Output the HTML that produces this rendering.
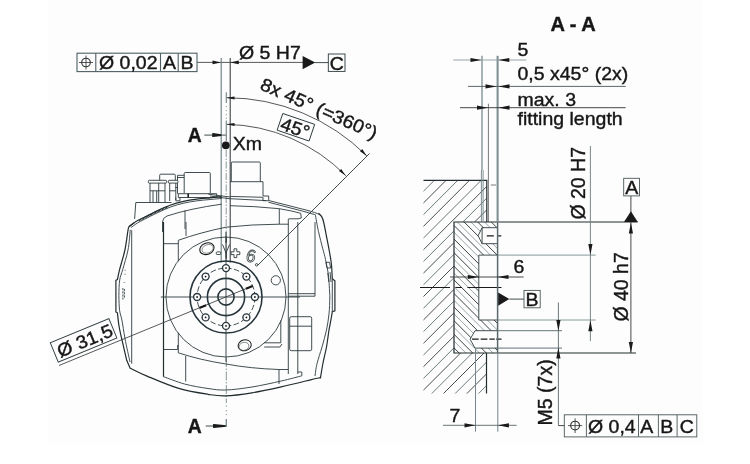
<!DOCTYPE html>
<html>
<head>
<meta charset="utf-8">
<title>Drawing</title>
<style>
html,body{margin:0;padding:0;background:#ffffff;}
body{width:750px;height:464px;overflow:hidden;position:relative;font-family:"Liberation Sans",sans-serif;}
#bg{position:absolute;left:48px;top:0;width:655px;height:444px;background:#fdfdfd;}
svg{position:absolute;left:0;top:0;}
text{font-family:"Liberation Sans",sans-serif;fill:#161616;stroke:#161616;stroke-width:0.4;}
.t{font-size:18.4px;}
.b{font-weight:bold;}
.v{font-size:19.5px;}
.l{stroke:#222c2e;stroke-width:1.2;fill:none;}
.m{stroke:#2c3a3d;stroke-width:0.9;fill:none;}
.n{stroke:#4a5658;stroke-width:0.6;fill:none;}
.k{stroke:#1a1a1a;stroke-width:1.3;fill:none;}
.g{stroke:#7c8c8f;stroke-width:0.9;fill:none;}
.gl{stroke:#9aa8aa;stroke-width:0.9;fill:none;}
.d{stroke:#2a2f30;stroke-width:0.8;fill:none;}
.f{fill:#1a1a1a;stroke:none;}
.fr{stroke:#4e5f63;stroke-width:1.1;fill:none;}
</style>
</head>
<body>
<div id="bg"></div>
<svg width="750" height="464" viewBox="0 0 750 464" style="filter:blur(0.35px)">

<g id="left-annot">
<!-- feature control frame top-left -->
<rect class="fr" x="77" y="53.2" width="120" height="18.4"/>
<path class="fr" d="M95.8 53.2 V71.6 M160.5 53.2 V71.6 M178.2 53.2 V71.6"/>
<circle class="d" cx="86" cy="62.5" r="4.3" style="stroke-width:1.1"/>
<path class="d" d="M79 62.5 H93 M86 55.5 V69.5"/>
<text class="t" transform="translate(99,69) scale(1.06,1)">Ø 0,02</text>
<text class="t" transform="translate(163,69) scale(1.06,1)">A</text>
<text class="t" transform="translate(180.5,69) scale(1.06,1)">B</text>
<!-- leader -->
<line class="d" x1="197.4" y1="62.4" x2="303" y2="62.4"/>
<path class="f" d="M221 62.4 l-8.5 -1.9 v3.8 z M230.3 62.4 l8.5 -1.9 v3.8 z"/>
<text class="t" transform="translate(239,59.2) scale(1.06,1)">Ø 5 H7</text>
<path class="f" d="M315.3 62.6 L302.6 56.1 V69.2 Z"/>
<line class="m" x1="315" y1="62.6" x2="328.3" y2="62.6"/>
<rect class="m" x="328.3" y="54" width="16.7" height="17.4"/>
<text class="t" transform="translate(329.8,70) scale(1.06,1)">C</text>
<!-- vertical extension lines -->
<line class="g" x1="221.2" y1="58" x2="221.2" y2="262.5" style="stroke:#66787c;stroke-width:1.1"/>
<line class="d" x1="230.2" y1="58" x2="230.2" y2="262.5" style="stroke-width:1"/>
<!-- arcs -->
<path class="d" d="M 226.5 97.7 A 199.2 199.2 0 0 1 366.8 155.9"/>
<path class="d" d="M 226.5 124.3 A 172 172 0 0 1 345.8 175.7"/>
<path class="f" d="M226.5 97.7 l8 -1.3 l0.1 3 z M226.5 124.3 l8 -1.3 l0.1 3 z"/>
<path class="f" d="M366.8 155.9 l-4.6 -6.8 l-2.2 2.2 z M345.8 175.7 l-4.6 -6.8 l-2.2 2.2 z"/>
<line class="m" x1="257.6" y1="265.4" x2="369.5" y2="153.5"/>
<text class="t" transform="translate(259,89) rotate(23.8) scale(1.06,1)">8x 45° (=360°)</text>
<g transform="translate(282.8,113.5) rotate(18.8)">
<rect class="m" x="0" y="0" width="33.7" height="17.6"/>
<text class="t" transform="translate(1.6,16) scale(1.06,1)">45°</text>
</g>
<!-- A markers -->
<text class="t b" transform="translate(187.8,142)" style="font-size:19.3px">A</text>
<line class="m" x1="204.3" y1="135.1" x2="226.2" y2="135.1"/>
<path class="f" d="M212.2 133.6 Q212.2 133 213 133.1 L221.3 134.3 V135.9 L213 137.1 Q212.2 137.2 212.2 136.6 Z"/>
<path class="g" d="M226.3 92.3 V103 M226.3 120.6 V141" style="stroke-width:1.2"/>
<path class="g" d="M226.3 106 v1.2 M226.3 110 v1.2 M226.3 114 v1.2 M226.3 117.6 v1.2"/>
<circle class="f" cx="225.8" cy="145.3" r="3.9"/>
<text class="t" transform="translate(232.8,149.8) scale(1.06,1)">Xm</text>
<text class="t b" transform="translate(187.8,433)" style="font-size:19.3px">A</text>
<line class="m" x1="205.7" y1="426" x2="214" y2="426"/>
<path class="f" d="M213 424.4 Q213 423.8 213.8 423.9 L226.4 425.2 V426.8 L213.8 428.1 Q213 428.2 213 427.6 Z"/>
<path class="g" d="M226.3 419 V427" style="stroke-width:1.4"/>
<!-- centre line -->
<line class="g" x1="226.2" y1="150" x2="226.2" y2="236" stroke-dasharray="7 1.5 1.5 1.5"/>
<line class="d" x1="226.2" y1="236.8" x2="226.2" y2="262" stroke-dasharray="6 8.6 7 20" style="stroke-width:1.3"/>
<line class="n" x1="226.2" y1="236" x2="226.2" y2="262"/>
<line class="g" x1="226.3" y1="358" x2="226.3" y2="403" stroke-dasharray="9 1.5 1.5 1.5"/>
<path class="g" d="M226.3 405.5 v1.3 M226.3 410 v1.3 M226.3 413.8 v1.3"/>
<!-- diam 31,5 -->
<g transform="translate(50.3,342.8) rotate(-22.4)">
<rect class="m" x="0" y="0" width="63.4" height="20.9"/>
<text class="t" transform="translate(3.5,17.5) scale(1.06,1)">Ø 31,5</text>
</g>
<line class="d" x1="59" y1="365.5" x2="252.8" y2="285.9"/>
</g>

<g id="left-body">
<!-- ===== connectors on top-left ===== -->
<path class="m" d="M135.8 202.5 H171.5 M135.8 202.5 L134.6 219"/>
<rect class="m" x="148.3" y="180.3" width="18.4" height="2.8" rx="1"/>
<rect class="m" x="168.3" y="180.3" width="9.7" height="2.8" rx="1"/>
<path class="m" d="M150 183 V202.5 M165 183 V202.5 M150 190.8 H165 M153 190.8 V202.5 M156.7 190.8 V202.5 M158.7 183 V202.5"/>
<path class="m" d="M169.7 183 V201 M175.8 183 V200 M169.7 190.8 H175.8"/>
<path class="m" d="M159.7 180.3 V175.2 Q159.7 174.2 160.7 174.2 H174.3 Q175.3 174.2 175.3 175.2 V180.3"/>
<path class="m" d="M177.5 180.3 V175.3 H184.2 M177.5 177.5 H184.2 M175.3 187.5 H177.5 M177.5 183 V193.7"/>
<path class="m" d="M184.2 193 V173.5 Q184.2 172.5 185.2 172.5 H209.3 Q210.3 172.5 210.3 173.5 V193"/>
<path class="m" d="M178.3 193.7 H216.7 V197.5 M178.3 193.7 V197.5 H216 M175.8 197.5 V200.8 H180 V197.5"/>
<path class="k" d="M188.2 193.7 V197.5" style="stroke-width:1.6"/>
<path class="m" d="M208.3 194.2 L230 197 M210 196 L230 198.8"/>
<!-- ===== boxes on top-right ===== -->
<path class="m" d="M231.3 181.7 V163 Q231.3 162 232.3 162 H259.3 Q260.3 162 260.3 163 V181.7"/>
<path class="m" d="M230.3 181.7 H263 V196 H268.7 V200.7 H263 V197.3"/>
<!-- ===== top surface ===== -->
<path class="l" d="M129.0 226.8 C130.2 225.9 133.6 223.1 136.0 221.6 C138.4 220.1 140.0 219.6 143.4 217.8 C146.8 216.1 152.2 213.2 156.7 211.1 C161.1 209.0 165.6 206.8 170.1 205.2 C174.6 203.6 179.1 202.4 183.5 201.4 C187.9 200.4 192.4 199.7 196.8 199.1 C201.2 198.5 206.0 198.2 210.2 197.8 C214.3 197.4 219.8 196.8 221.7 196.6"/>
<path class="m" d="M131.0 227.6 C132.1 226.8 135.3 224.3 137.6 222.9 C139.9 221.5 141.3 220.9 144.6 219.2 C147.9 217.5 153.2 214.8 157.6 212.7 C162.0 210.6 166.4 208.5 170.8 206.9 C175.2 205.3 179.6 204.1 184.0 203.1 C188.4 202.1 192.6 201.4 197.0 200.8 C201.4 200.2 206.1 199.9 210.2 199.5 C214.3 199.1 219.8 198.6 221.7 198.4"/>
<path class="l" d="M139.0 220.6 C140.5 219.8 145.0 217.4 148.0 215.9 C151.0 214.4 153.9 213.1 157.2 211.5 C160.5 209.9 166.2 207.4 168.0 206.6" style="stroke-width:2;stroke-dasharray:0.9 0.6"/>
<path class="m" d="M230.2 196.4 L263 197.3 M268.7 200.5 L306 210 Q316 212.6 319.5 214.6"/>
<path class="m" d="M230.2 198.7 L266 200.6 M268.4 202.2 L304 211.5 L314.8 214.6"/>
<!-- inner arc -->
<path class="m" d="M162.5 232 V222 Q162.8 217.5 167 216 Q190 208.5 221.5 204.2 M185 210.3 V229"/>
<path class="m" d="M230.2 205.7 Q255 206.2 279.3 208.7 Q292 210.8 300.7 213.3 L301.3 218 L298 218.8 H288.5 M279.3 208.7 V224.3"/>
<!-- ===== left cover ===== -->
<path class="l" d="M134.2 222.8 C133.6 223.2 131.5 224.5 130.5 225.5 C129.5 226.5 129.2 224.6 128.3 228.7 C127.4 232.8 126.4 243.2 124.9 250.0 C123.5 256.8 120.8 264.7 119.6 269.6 C118.3 274.5 117.8 277.9 117.4 279.5 L115.9 280.3 V312 L117.4 312.8 C117.7 315.0 118.3 321.7 119.0 326.0 C119.7 330.3 120.4 333.0 121.7 338.7 C123.0 344.4 125.9 356.7 126.7 360.3 L130.2 368.2 C133.0 369.5 138.9 372.7 147.0 376.1 C155.1 379.5 168.5 385.4 178.7 388.4 C188.9 391.4 200.2 393.1 208.0 394.3 C215.8 395.5 218.3 396.1 225.6 395.8 C232.9 395.6 242.7 394.3 252.0 392.8 C261.3 391.3 271.5 389.1 281.3 386.9 C291.1 384.7 304.1 381.4 310.6 379.8 C317.1 378.2 318.8 378.0 320.4 377.6"/>
<path class="m" d="M130.3 229.8 C129.9 233.2 129.3 243.4 128.0 250.0 C126.7 256.6 124.1 264.6 122.7 269.6 C121.3 274.6 120.3 275.7 119.7 280.0 C119.1 284.3 118.9 290.2 118.9 295.3 C118.9 300.4 119.1 306.3 119.6 310.4 C120.1 314.5 121.0 315.3 121.9 320.0 C122.8 324.7 123.7 331.7 125.0 338.7 C126.3 345.7 129.2 358.1 130.0 362.0"/>
<path class="m" d="M131.7 230.3 V363.7"/>
<path class="m" d="M163.5 376.7 C167.0 377.9 177.1 382.0 184.5 384.0 C191.9 386.0 201.2 387.5 208.0 388.5 C214.8 389.5 218.3 390.2 225.6 390.0 C232.9 389.8 242.7 388.5 252.0 387.0 C261.3 385.5 273.0 382.9 281.3 381.0 C289.6 379.1 298.4 376.7 301.8 375.8 V372 H297.6"/>
<path class="n" d="M124.3 270.3 h1.6 M124.3 274.2 h1.6 M123.6 282.5 h1.6"/>
<path class="m" d="M122.9 288 v11.5 M124.4 289 v9.5" stroke-dasharray="2.2 1"/>
<!-- ===== right cover ===== -->
<path class="l" d="M318.5 213.2 C319.0 213.8 320.8 215.1 321.7 216.6 C322.6 218.1 322.9 219.1 323.6 222.0 C324.3 224.9 325.1 229.0 326.0 233.8 C326.9 238.6 328.4 246.0 329.3 251.0 C330.2 256.0 330.9 259.4 331.4 264.0 C331.9 268.6 332.1 276.3 332.3 278.8 L334.9 280.8 V310.9 L332.3 311.8 C332.0 313.4 331.2 318.6 330.6 321.6 C330.1 324.6 329.7 325.8 329.0 330.0 C328.3 334.2 327.5 341.5 326.5 347.0 C325.5 352.5 324.0 357.8 323.0 363.0 C322.0 368.2 320.8 375.8 320.4 378.3"/>
<path class="m" d="M315.3 214.4 C315.8 217.3 317.2 225.8 318.5 231.6 C319.8 237.3 321.6 244.3 322.8 248.9 C324.0 253.5 324.6 255.0 325.5 259.4 C326.4 263.8 327.8 270.1 328.4 275.0 C329.0 279.9 329.2 284.7 329.4 288.5 C329.6 292.3 329.9 293.8 329.8 298.0 C329.7 302.2 329.6 308.5 329.0 313.8 C328.4 319.1 327.7 324.5 326.5 330.0 C325.3 335.5 323.6 341.4 322.0 347.0 C320.4 352.6 318.2 358.8 317.0 363.7 C315.8 368.6 315.3 374.0 315.0 376.1"/>
<path class="m" d="M332.3 278.8 V311.8"/>
<path class="m" d="M325.9 262.3 H329.6 L330.6 268 H327 Z M327.8 273 L328.8 282 M330 272 L331 282"/>
<!-- ===== inner structure ===== -->
<path class="l" d="M163.5 222 V376.7"/>
<path class="m" d="M186 222 V236 M163.5 243.7 H178.3 M163.5 349.5 H177.7 V345"/>
<path class="m" d="M178.3 261.2 V240.3 Q200 232.5 226 227.2 Q252 224.3 279.3 224.2 H288.5"/>
<path class="m" d="M178.3 332.8 V352.8 Q200 360 226 364 Q250 368.5 279 369.5 H288.3 M185.7 356 V381.5 M279 369.5 V384"/>
<path class="m" d="M288.3 219 V374 M297.8 222 V374 M315 222 V296.2 M288.3 293.7 H315 M288.3 296.2 H315"/>
<rect class="m" x="289.7" y="316.7" width="22" height="34" rx="1.5"/>
<path class="m" d="M289.7 326.2 H311.7"/>
<path class="m" d="M280.8 320.3 V342.8 H264.2 M264.2 347 H280 L282 344"/>
<!-- ===== rotary plate ===== -->
<circle class="m" cx="226" cy="297" r="60"/>
<circle class="k" cx="226" cy="297" r="36" style="stroke-width:1.6;stroke:#25343a"/>
<circle class="m" cx="226" cy="297" r="28.9" stroke-dasharray="5.6 2.4"/>
<circle class="k" cx="226" cy="297" r="18.6" style="stroke-width:1.6;stroke:#25343a"/>
<circle class="k" cx="226" cy="297" r="8.1" style="stroke-width:1.6;stroke:#25343a"/>
<path class="m" d="M160.8 297 H300 M226 232 V362"/>
<circle cx="226.0" cy="268.1" r="3.5" fill="#fdfdfd" stroke="#25343a" stroke-width="1.35"/><circle cx="226.0" cy="268.1" r="0.9" class="f"/>
<circle cx="205.6" cy="276.6" r="3.5" fill="#fdfdfd" stroke="#25343a" stroke-width="1.35"/><circle cx="205.6" cy="276.6" r="0.9" class="f"/>
<circle cx="197.1" cy="297.0" r="3.5" fill="#fdfdfd" stroke="#25343a" stroke-width="1.35"/><circle cx="197.1" cy="297.0" r="0.9" class="f"/>
<circle cx="205.6" cy="317.4" r="3.5" fill="#fdfdfd" stroke="#25343a" stroke-width="1.35"/><circle cx="205.6" cy="317.4" r="0.9" class="f"/>
<circle cx="226.0" cy="325.9" r="3.5" fill="#fdfdfd" stroke="#25343a" stroke-width="1.35"/><circle cx="226.0" cy="325.9" r="0.9" class="f"/>
<circle cx="246.4" cy="317.4" r="3.5" fill="#fdfdfd" stroke="#25343a" stroke-width="1.35"/><circle cx="246.4" cy="317.4" r="0.9" class="f"/>
<circle cx="254.9" cy="297.0" r="3.5" fill="#fdfdfd" stroke="#25343a" stroke-width="1.35"/><circle cx="254.9" cy="297.0" r="0.9" class="f"/>
<circle cx="246.4" cy="276.6" r="3.5" fill="#fdfdfd" stroke="#25343a" stroke-width="1.35"/><circle cx="246.4" cy="276.6" r="0.9" class="f"/>
<!-- thick arrow dashes of dia 31,5 -->
<path class="k" d="M245.9 288.8 L252.7 286" style="stroke-width:2.3"/>
<path class="k" d="M206.1 305.2 L199.3 308" style="stroke-width:2.3"/>
<!-- symbols on plate -->
<g transform="translate(206.9,248.7) rotate(-22)"><ellipse class="k" cx="0" cy="0" rx="7.4" ry="5.6" style="stroke-width:1.1"/><ellipse class="n" cx="0.6" cy="0.4" rx="5.8" ry="4.1"/></g>
<rect class="m" x="216.3" y="251.9" width="4.4" height="2.6" rx="0.8"/>
<path class="m" d="M222.5 244.4 L226 253 L229.6 244.4"/>
<path class="m" d="M234 248.8 h2.8 v3 h3 v2.8 h-3 v3 h-2.8 v-3 h-3 v-2.8 h3 z"/>
<text x="246" y="262" style="font-size:17px;font-style:italic;fill:none;stroke:#3a4648;stroke-width:0.8">6</text>
<circle class="m" cx="256.6" cy="264.8" r="1.2"/>
<circle class="m" cx="275.8" cy="280.3" r="4.6"/>
<g transform="translate(244.7,345.3) rotate(-15)"><ellipse class="k" cx="0" cy="0" rx="6.6" ry="5.4" style="stroke-width:1"/><ellipse class="n" cx="-1" cy="0.8" rx="5" ry="4"/></g>
</g>

<g id="right-view">
<defs>
<clipPath id="cb"><path d="M423.5 180.4 H486.8 V222 H454 V353 H486.5 V393.5 H423.5 Z"/></clipPath>
<clipPath id="cf"><path d="M454 222 H497.5 V227.7 H482.1 L478.1 235.7 L482.1 243.7 H497.5 V255.1 H478.8 V320 H497.5 V330.7 H475 L470.1 339.3 L475 348.1 H497.5 V353 H454 Z"/></clipPath>
</defs>
<style>.h1{stroke:#27302f;stroke-width:0.85;fill:none}.h1b{stroke:#4f6265;stroke-width:0.85;fill:none}.h2{stroke:#262c2d;stroke-width:0.9;fill:none}.h2b{stroke:#7d9094;stroke-width:0.8;fill:none}</style>
<text class="t b" transform="translate(550.6,31.2) scale(1.0,1)" style="font-size:20px">A - A</text>
<!-- body hatch -->
<g clip-path="url(#cb)"><path class="h1" d="M420.0 136.2 L500.0 56.2 M420.0 159.6 L500.0 79.6 M420.0 183.0 L500.0 103.0 M420.0 206.4 L500.0 126.4 M420.0 229.8 L500.0 149.8 M420.0 253.2 L500.0 173.2 M420.0 276.6 L500.0 196.6 M420.0 300.0 L500.0 220.0 M420.0 323.4 L500.0 243.4 M420.0 346.8 L500.0 266.8 M420.0 370.2 L500.0 290.2 M420.0 393.6 L500.0 313.6 M420.0 417.0 L500.0 337.0 M420.0 440.4 L500.0 360.4 M420.0 463.8 L500.0 383.8 M420.0 487.2 L500.0 407.2 M420.0 510.6 L500.0 430.6 M420.0 534.0 L500.0 454.0 M420.0 557.4 L500.0 477.4 M420.0 580.8 L500.0 500.8"/><path class="h1b" d="M420.0 147.9 L500.0 67.9 M420.0 171.3 L500.0 91.3 M420.0 194.7 L500.0 114.7 M420.0 218.1 L500.0 138.1 M420.0 241.5 L500.0 161.5 M420.0 264.9 L500.0 184.9 M420.0 288.3 L500.0 208.3 M420.0 311.7 L500.0 231.7 M420.0 335.1 L500.0 255.1 M420.0 358.5 L500.0 278.5 M420.0 381.9 L500.0 301.9 M420.0 405.3 L500.0 325.3 M420.0 428.7 L500.0 348.7 M420.0 452.1 L500.0 372.1 M420.0 475.5 L500.0 395.5 M420.0 498.9 L500.0 418.9 M420.0 522.3 L500.0 442.3 M420.0 545.7 L500.0 465.7 M420.0 569.1 L500.0 489.1 M420.0 592.5 L500.0 512.5"/></g>
<!-- flange hatch -->
<g clip-path="url(#cf)"><path class="h2" d="M450.0 398.3 L500.0 448.3 M450.0 384.7 L500.0 434.7 M450.0 371.1 L500.0 421.1 M450.0 357.5 L500.0 407.5 M450.0 343.9 L500.0 393.9 M450.0 330.3 L500.0 380.3 M450.0 316.7 L500.0 366.7 M450.0 303.1 L500.0 353.1 M450.0 289.5 L500.0 339.5 M450.0 275.9 L500.0 325.9 M450.0 262.3 L500.0 312.3 M450.0 248.7 L500.0 298.7 M450.0 235.1 L500.0 285.1 M450.0 221.5 L500.0 271.5 M450.0 207.9 L500.0 257.9 M450.0 194.3 L500.0 244.3 M450.0 180.7 L500.0 230.7 M450.0 167.1 L500.0 217.1 M450.0 153.5 L500.0 203.5 M450.0 139.9 L500.0 189.9"/><path class="h2b" d="M450.0 391.5 L500.0 441.5 M450.0 377.9 L500.0 427.9 M450.0 364.3 L500.0 414.3 M450.0 350.7 L500.0 400.7 M450.0 337.1 L500.0 387.1 M450.0 323.5 L500.0 373.5 M450.0 309.9 L500.0 359.9 M450.0 296.3 L500.0 346.3 M450.0 282.7 L500.0 332.7 M450.0 269.1 L500.0 319.1 M450.0 255.5 L500.0 305.5 M450.0 241.9 L500.0 291.9 M450.0 228.3 L500.0 278.3 M450.0 214.7 L500.0 264.7 M450.0 201.1 L500.0 251.1 M450.0 187.5 L500.0 237.5 M450.0 173.9 L500.0 223.9 M450.0 160.3 L500.0 210.3 M450.0 146.7 L500.0 196.7 M450.0 133.1 L500.0 183.1"/></g>
<!-- body outline -->
<path class="l" d="M423.5 180.4 H486.8 V222"/>
<path class="l" d="M486.5 353 V393.5"/>
<!-- flange outline -->
<path class="l" d="M637.8 222 H454 V353 H636"/>
<path class="m" d="M497.5 227.7 H482.1 L478.1 235.7 L482.1 243.7 H497.5"/>
<line class="m" x1="482.1" y1="227.7" x2="482.1" y2="243.7"/>
<path class="g" d="M595.7 255.1 H497.5 M595.7 320 H497.5"/>
<path class="m" d="M497.5 255.1 H478.8 V320 H497.5"/>
<path class="g" d="M562 330.7 H497.5 M562 348.1 H497.5" style="stroke:#55646a"/>
<path class="m" d="M497.5 330.7 H475 L470.1 339.3 L475 348.1 H497.5"/>
<!-- centre lines -->
<path class="k" d="M486.8 235.8 h7 M498.1 235.8 h3.2" style="stroke-width:1.2"/>
<path class="k" d="M420 287.5 H450 M455.4 287.5 H462 M467.4 287.5 H501.5" style="stroke-width:1"/>
<path class="k" d="M472 339.2 h6.7 M480.7 339.2 h6.7 M489.4 339.2 h5.4 M496.2 339.2 h5.3" style="stroke-width:1.2"/>
<!-- vertical lines from top -->
<line class="n" x1="482" y1="55.8" x2="482" y2="170" style="stroke:#6f8184;stroke-width:1.2"/>
<line class="n" x1="481.4" y1="170" x2="481.4" y2="222" style="stroke:#6f8184;stroke-width:0.9"/>
<line class="n" x1="483.1" y1="170" x2="483.1" y2="222" style="stroke:#6f8184;stroke-width:0.9"/>
<line class="n" x1="488.4" y1="103.7" x2="488.4" y2="222" style="stroke:#222;"/>
<line x1="497.6" y1="55.8" x2="497.6" y2="222" stroke="#7f9194" stroke-width="2.1"/>
<line x1="497.6" y1="222" x2="497.6" y2="353" stroke="#59696c" stroke-width="1.5"/>
<line x1="497.8" y1="353" x2="497.8" y2="431.7" stroke="#74868a" stroke-width="1"/>
<line class="n" x1="475.5" y1="348" x2="475.5" y2="431.7" style="stroke:#74868a;stroke-width:1"/>
<line class="n" x1="490.8" y1="185" x2="496.1" y2="185" style="stroke:#222;"/>
<!-- dims top -->
<line class="n" x1="453.3" y1="60" x2="526.3" y2="60" style="stroke:#8a9a9c;stroke-width:0.9;"/>
<path class="f" d="M481.5 60 l-11 -2.1 v4.2 z M498.3 60 l11 -2.1 v4.2 z"/>
<text class="t" transform="translate(517.5,56) scale(1.06,1)">5</text>
<line class="n" x1="468" y1="86.4" x2="625.7" y2="86.4" style="stroke:#4a5658;stroke-width:0.9;"/>
<path class="f" d="M496.5 86.4 l-11 -2.1 v4.2 z M498.5 86.4 l11 -2.1 v4.2 z"/>
<text class="t" transform="translate(517.5,80.1) scale(1.06,1)">0,5 x45° (2x)</text>
<line class="n" x1="460" y1="107.7" x2="625.7" y2="107.7" style="stroke:#333;stroke-width:0.9;"/>
<path class="f" d="M488 107.7 l-11 -2.1 v4.2 z M498.5 107.7 l11 -2.1 v4.2 z"/>
<text class="t" transform="translate(517.5,106) scale(1.06,1)">max. 3</text>
<text class="t" transform="translate(517.5,125) scale(1.06,1)">fitting length</text>
<!-- 6 dim -->
<line class="n" x1="450" y1="277" x2="523.6" y2="277" style="stroke:#333;stroke-width:0.9;"/>
<path class="f" d="M478.8 277 l-11 -2.1 v4.2 z M497.5 277 l11 -2.1 v4.2 z"/>
<text class="t" transform="translate(513.5,273) scale(1.06,1)">6</text>
<!-- datum B -->
<path class="f" d="M498.2 292.4 V305.8 L509.3 299.1 Z"/>
<line class="m" x1="509.3" y1="299.1" x2="524" y2="299.1"/>
<rect class="m" x="524" y="290.4" width="16.2" height="17.4" style="stroke:#4a5658;"/>
<text class="t" transform="translate(525.5,306) scale(1.06,1)">B</text>
<!-- 7 dim -->
<line class="n" x1="443" y1="425.3" x2="516.6" y2="425.3" style="stroke:#5a6668;stroke-width:0.9;"/>
<path class="f" d="M475.5 425.3 l-11 -2.1 v4.2 z M497.9 425.3 l11 -2.1 v4.2 z"/>
<text class="t" transform="translate(449.5,421.6) scale(1.06,1)">7</text>
<!-- dia 20 H7 -->
<line class="n" x1="590.4" y1="146" x2="590.4" y2="341" style="stroke:#6a7a7c;stroke-width:0.9;"/>
<path class="f" d="M590.4 254.9 l-2.1 -11 h4.2 z M590.4 320.3 l-2.1 11 h4.2 z"/>
<text class="t v" transform="translate(585,219.6) rotate(-90)">Ø 20 H7</text>
<!-- dia 40 h7 -->
<line class="n" x1="630.9" y1="196" x2="630.9" y2="353" style="stroke:#333;stroke-width:0.9;"/>
<path class="f" d="M630.9 222.5 l-2.1 11 h4.2 z M630.9 353 l-2.1 -11 h4.2 z"/>
<text class="t v" transform="translate(628,321.6) rotate(-90)">Ø 40 h7</text>
<!-- datum A -->
<path class="f" d="M624 222.1 H637.8 L630.9 211.2 Z"/>
<rect class="m" x="623.7" y="178.3" width="15.8" height="17.6" style="stroke:#4a5658;"/>
<text class="t" transform="translate(625.2,194) scale(1.06,1)">A</text>
<!-- M5 -->
<line class="n" x1="558.4" y1="302.5" x2="558.4" y2="425.6" style="stroke:#5a6a6c;stroke-width:0.9;"/>
<path class="f" d="M558.4 331 l-2.1 -11 h4.2 z M558.4 347.6 l-2.1 11 h4.2 z"/>
<line class="n" x1="558.4" y1="425.6" x2="564.3" y2="425.6" style="stroke:#333;stroke-width:0.9;"/>
<text class="t v" transform="translate(552.4,425.4) rotate(-90)">M5 (7x)</text>
<!-- frame -->
<rect class="m" x="564.3" y="414.8" width="132.5" height="22.1" style="stroke:#4a5658;"/>
<path class="m" d="M586.4 414.8 V436.9 M638.5 414.8 V436.9 M658.4 414.8 V436.9 M677.1 414.8 V436.9" style="stroke:#4a5658;"/>
<circle class="d" cx="575.1" cy="425.6" r="4.4" style="stroke-width:1.1"/>
<path class="d" d="M568 425.6 H582.2 M575.1 418.3 V433"/>
<text class="t" transform="translate(588,433.3) scale(1.06,1)">Ø 0,4</text>
<text class="t" transform="translate(640.3,433.3) scale(1.06,1)">A</text>
<text class="t" transform="translate(660.2,433.3) scale(1.06,1)">B</text>
<text class="t" transform="translate(679.7,433.3) scale(1.06,1)">C</text>
</g>
</svg>
</body>
</html>
